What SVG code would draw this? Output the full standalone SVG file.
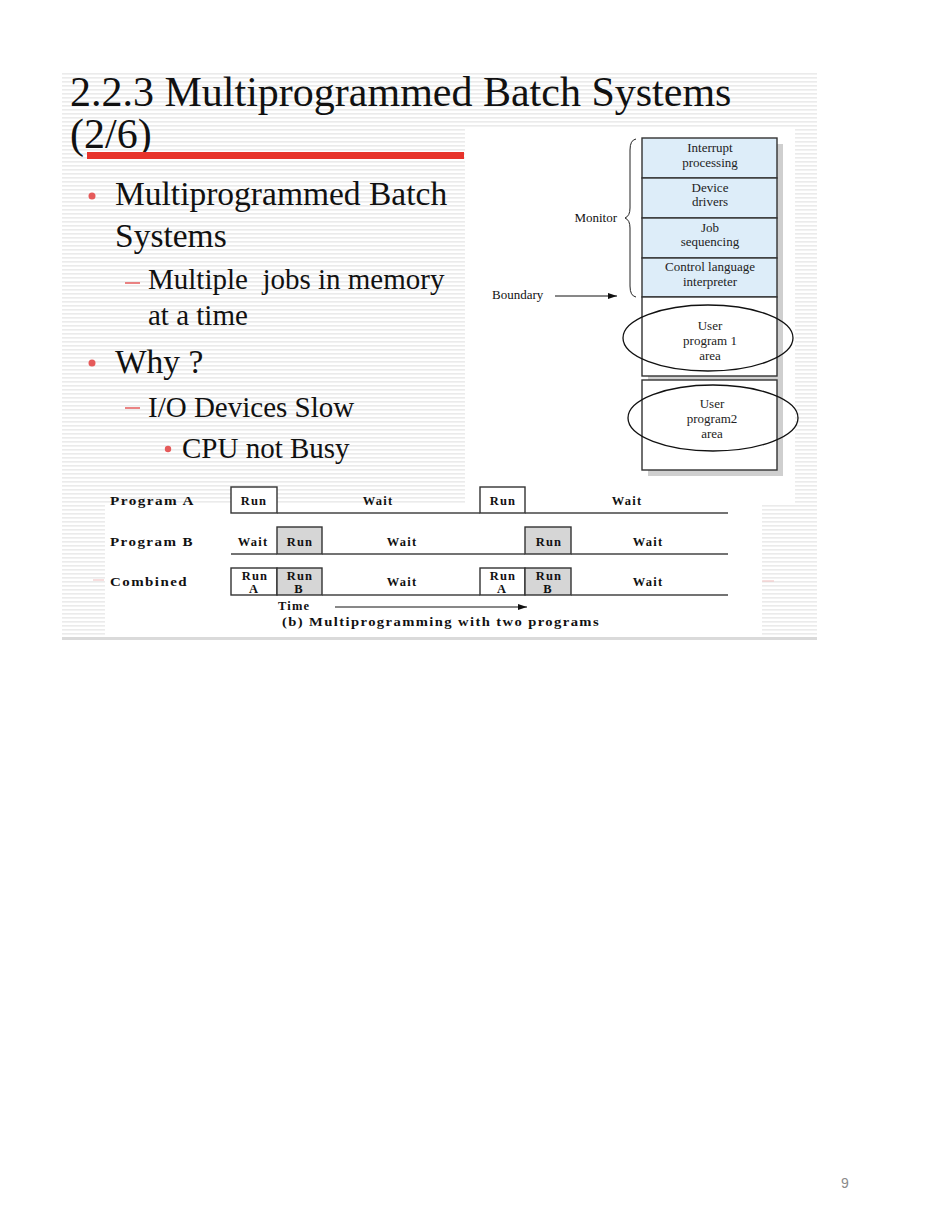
<svg xmlns="http://www.w3.org/2000/svg" width="950" height="1208" viewBox="0 0 950 1208">
<defs>
<pattern id="stripes" x="0" y="72" width="8" height="4" patternUnits="userSpaceOnUse">
<rect x="0" y="0" width="8" height="4" fill="#ffffff"/>
<rect x="0" y="1" width="8" height="1.6" fill="#ebebeb"/>
</pattern>
<marker id="arr" markerWidth="10" markerHeight="8" refX="9" refY="4" orient="auto" markerUnits="userSpaceOnUse">
<path d="M0,1 L9,4 L0,7 Z" fill="#111"/>
</marker>
</defs>
<style>
.serif{font-family:"Liberation Serif","Times New Roman",serif;fill:#111}
.title{font-size:42px}
.l1{font-size:33.5px}
.l2{font-size:29px}
.mem{font-size:13px;text-anchor:middle;fill:#222}
.tb{font-size:12.5px;font-weight:bold;fill:#111;letter-spacing:1.2px}
.tc{text-anchor:middle}
.sec{fill:#ddedf9;stroke:#333;stroke-width:1.4}
.usr{fill:#fff;stroke:#333;stroke-width:1.4}
.run{fill:#fff;stroke:#333;stroke-width:1.4}
.runb{fill:#d6d6d6;stroke:#333;stroke-width:1.4}
.tl{stroke:#444;stroke-width:1.4;fill:none}
.ell{fill:none;stroke:#111;stroke-width:1.3}
</style>
<rect width="950" height="1208" fill="#ffffff"/>
<rect x="62" y="72" width="755" height="568" fill="url(#stripes)"/>
<rect x="465" y="128" width="330" height="377" fill="#ffffff"/>
<rect x="105" y="505" width="657" height="132" fill="#ffffff"/>
<rect x="62" y="637" width="755" height="3" fill="#dadada"/>
<line x1="93" y1="580" x2="104" y2="580" stroke="#f2c8c8" stroke-width="1.2"/>
<line x1="762" y1="581" x2="774" y2="581" stroke="#f2c8c8" stroke-width="1.2"/>

<g id="title">
<text class="serif title" x="70" y="106">2.2.3 Multiprogrammed Batch Systems</text>
<text class="serif title" x="70" y="148">(2/6)</text>
<rect x="87" y="152" width="377" height="7" fill="#e7332b"/>
</g>

<g id="bullets">
<circle cx="92" cy="196" r="3.5" fill="#e55a5a"/>
<text class="serif l1" x="115" y="205">Multiprogrammed Batch</text>
<text class="serif l1" x="115" y="247">Systems</text>
<line x1="125" y1="283" x2="140" y2="283" stroke="#e55a5a" stroke-width="1.5"/>
<text class="serif l2" x="148" y="289" xml:space="preserve">Multiple  jobs in memory</text>
<text class="serif l2" x="148" y="325">at a time</text>
<circle cx="92" cy="363" r="3.5" fill="#e55a5a"/>
<text class="serif l1" x="115" y="373">Why ?</text>
<line x1="125" y1="408" x2="140" y2="408" stroke="#e55a5a" stroke-width="1.5"/>
<text class="serif l2" x="148" y="417">I/O Devices Slow</text>
<circle cx="168" cy="449" r="3.2" fill="#e55a5a"/>
<text class="serif l2" x="182" y="458">CPU not Busy</text>
</g>

<g id="memory">
<rect x="648" y="144" width="135" height="332" fill="#cfcfcf"/>
<rect x="642" y="138" width="135" height="40" class="sec"/>
<rect x="642" y="178" width="135" height="40" class="sec"/>
<rect x="642" y="218" width="135" height="40" class="sec"/>
<rect x="642" y="258" width="135" height="39" class="sec"/>
<rect x="642" y="297" width="135" height="79" class="usr"/>
<rect x="642" y="380" width="135" height="90" class="usr"/>
<text class="serif mem" x="710" y="152">Interrupt</text>
<text class="serif mem" x="710" y="167">processing</text>
<text class="serif mem" x="710" y="192">Device</text>
<text class="serif mem" x="710" y="206">drivers</text>
<text class="serif mem" x="710" y="232">Job</text>
<text class="serif mem" x="710" y="246">sequencing</text>
<text class="serif mem" x="710" y="271">Control language</text>
<text class="serif mem" x="710" y="286">interpreter</text>
<text class="serif mem" x="710" y="330">User</text>
<text class="serif mem" x="710" y="345">program 1</text>
<text class="serif mem" x="710" y="360">area</text>
<text class="serif mem" x="712" y="408">User</text>
<text class="serif mem" x="712" y="423">program2</text>
<text class="serif mem" x="712" y="438">area</text>
<ellipse cx="708" cy="338" rx="85" ry="33" class="ell"/>
<ellipse cx="713" cy="418" rx="85" ry="33" class="ell"/>
<path d="M636,139 Q630,140 630,150 L630,208 Q630,216 625,218 Q630,220 630,228 L630,286 Q630,296 636,297" fill="none" stroke="#222" stroke-width="1"/>
<text class="serif" x="617" y="222" font-size="13" text-anchor="end" fill="#222">Monitor</text>
<text class="serif" x="492" y="299" font-size="13" fill="#222">Boundary</text>
</g>

<g id="timing">
<text class="serif tb" x="110" y="505" textLength="85" lengthAdjust="spacingAndGlyphs">Program A</text>
<text class="serif tb" x="110" y="546" textLength="84" lengthAdjust="spacingAndGlyphs">Program B</text>
<text class="serif tb" x="110" y="586" textLength="78" lengthAdjust="spacingAndGlyphs">Combined</text>
<rect x="231" y="487" width="46" height="26" class="run"/>
<rect x="480" y="487" width="45" height="26" class="run"/>
<text class="serif tb tc" x="254" y="505">Run</text>
<text class="serif tb tc" x="503" y="505">Run</text>
<text class="serif tb tc" x="378" y="505">Wait</text>
<text class="serif tb tc" x="627" y="505">Wait</text>
<rect x="277" y="527" width="45" height="27" class="runb"/>
<rect x="525" y="527" width="46" height="27" class="runb"/>
<text class="serif tb tc" x="253" y="546">Wait</text>
<text class="serif tb tc" x="300" y="546">Run</text>
<text class="serif tb tc" x="402" y="546">Wait</text>
<text class="serif tb tc" x="549" y="546">Run</text>
<text class="serif tb tc" x="648" y="546">Wait</text>
<rect x="231" y="568" width="46" height="27" class="run"/>
<rect x="277" y="568" width="45" height="27" class="runb"/>
<rect x="480" y="568" width="45" height="27" class="run"/>
<rect x="525" y="568" width="46" height="27" class="runb"/>
<text class="serif tb tc" x="255" y="580">Run</text>
<text class="serif tb tc" x="254" y="593" font-size="11">A</text>
<text class="serif tb tc" x="300" y="580">Run</text>
<text class="serif tb tc" x="299" y="593" font-size="11">B</text>
<text class="serif tb tc" x="503" y="580">Run</text>
<text class="serif tb tc" x="502" y="593" font-size="11">A</text>
<text class="serif tb tc" x="549" y="580">Run</text>
<text class="serif tb tc" x="548" y="593" font-size="11">B</text>
<text class="serif tb tc" x="402" y="586">Wait</text>
<text class="serif tb tc" x="648" y="586">Wait</text>
<text class="serif tb" x="278" y="610">Time</text>
<text class="serif tb" x="282" y="626" textLength="318" lengthAdjust="spacingAndGlyphs">(b) Multiprogramming with two programs</text>
</g>

<g id="connectors">
<line x1="555" y1="296" x2="617" y2="296" stroke="#111" stroke-width="1" marker-end="url(#arr)"/>
<line x1="277" y1="513" x2="480" y2="513" class="tl"/>
<line x1="525" y1="513" x2="728" y2="513" class="tl"/>
<line x1="231" y1="554" x2="277" y2="554" class="tl"/>
<line x1="322" y1="554" x2="525" y2="554" class="tl"/>
<line x1="571" y1="554" x2="728" y2="554" class="tl"/>
<line x1="322" y1="595" x2="480" y2="595" class="tl"/>
<line x1="571" y1="595" x2="728" y2="595" class="tl"/>
<line x1="335" y1="607" x2="527" y2="607" stroke="#111" stroke-width="1" marker-end="url(#arr)"/>
</g>

<text x="845" y="1188" font-family="Liberation Sans, Arial, sans-serif" font-size="14" fill="#8a8a8a" text-anchor="middle">9</text>
</svg>
